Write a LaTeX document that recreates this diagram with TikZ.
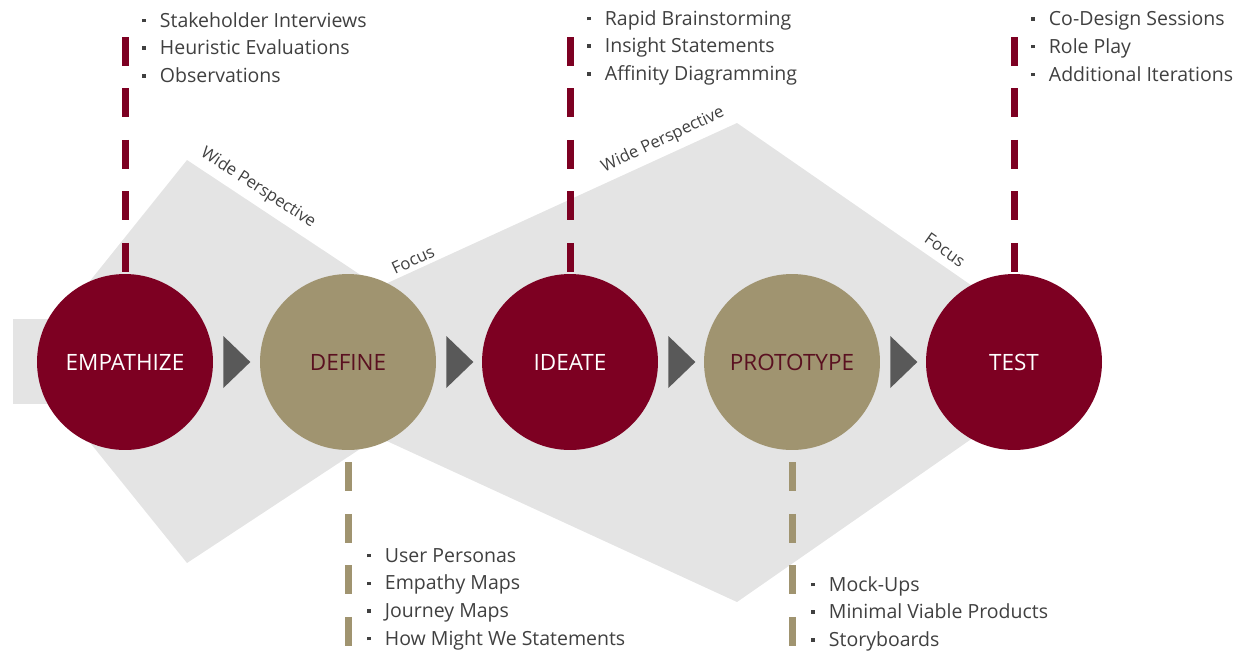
\documentclass[tikz,border=0pt]{standalone}
\usepackage{fontspec}
\setmainfont{Open Sans}
\usetikzlibrary{backgrounds,calc}

\definecolor{crimson}{RGB}{125,0,34}
\definecolor{sand}{RGB}{160,148,112}
\definecolor{greyfill}{RGB}{228,228,228}
\definecolor{arrowgrey}{RGB}{89,89,89}
\definecolor{ink}{RGB}{64,64,64}
\definecolor{darkink}{RGB}{90,16,32}

\tikzset{
  stage/.style={circle, minimum size=3.52cm, inner sep=0pt, font=\fontsize{12.8}{14}\selectfont},
  redstage/.style={stage, fill=crimson, text=white},
  sandstage/.style={stage, fill=sand, text=darkink},
  stem/.style={line width=0.14cm, dash pattern=on 0.58cm off 0.45cm},
  itemlist/.style={anchor=north west, align=left, inner sep=0pt, text=ink, font=\fontsize{11.1}{15.75}\selectfont},
  edgelabel/.style={text=ink, font=\fontsize{9.5}{11}\selectfont, inner sep=1pt},
}
\newcommand{\sqbullet}{\rule[0.25em]{2pt}{2pt}\hspace{8pt}}

\begin{document}
\begin{tikzpicture}[x=0.02cm, y=-0.02cm]
\useasboundingbox (0,0) rectangle (1243,650);
% the five stages
\node[redstage] (emp) at (125,362) {EMPATHIZE};
\node[sandstage] (def) at (348,362) {DEFINE};
\node[redstage] (ide) at (570,362) {IDEATE};
\node[sandstage] (pro) at (792,362) {PROTOTYPE};
\node[redstage] (tes) at (1014,362) {TEST};
\fill[arrowgrey] ($(emp.east)+(10,-26)$) -- ++(27,26) -- ++(-27,26) -- cycle;
\fill[arrowgrey] ($(def.east)+(10,-26)$) -- ++(27,26) -- ++(-27,26) -- cycle;
\fill[arrowgrey] ($(ide.east)+(10,-26)$) -- ++(27,26) -- ++(-27,26) -- cycle;
\fill[arrowgrey] ($(pro.east)+(10,-26)$) -- ++(27,26) -- ++(-27,26) -- cycle;
% methods
\node[itemlist] (empList) at (142,12) {\sqbullet Stakeholder Interviews\\ \sqbullet Heuristic Evaluations\\ \sqbullet Observations};
\node[itemlist] (ideList) at (587,10) {\sqbullet Rapid Brainstorming\\ \sqbullet Insight Statements\\ \sqbullet Affinity Diagramming};
\node[itemlist] (tesList) at (1031,11) {\sqbullet Co-Design Sessions\\ \sqbullet Role Play\\ \sqbullet Additional Iterations};
\node[itemlist] (defList) at (367,548) {\sqbullet User Personas\\ \sqbullet Empathy Maps\\ \sqbullet Journey Maps\\ \sqbullet How Might We Statements};
\node[itemlist] (proList) at (811,576) {\sqbullet Mock-Ups\\ \sqbullet Minimal Viable Products\\ \sqbullet Storyboards};
% labels along the diamonds
\node[edgelabel, rotate=-33] (wide1) at (258,188) {Wide Perspective};
\node[edgelabel, rotate=25] (focus1) at (413,260) {Focus};
\node[edgelabel, rotate=25] (wide2) at (663,140) {Wide Perspective};
\node[edgelabel, rotate=-35] (focus2) at (945,250) {Focus};
\coordinate (empTop) at (125,37);
\coordinate (ideTop) at (570,37);
\coordinate (tesTop) at (1014,37);
\coordinate (defBot) at (348,650);
\coordinate (proBot) at (792,650);
\begin{scope}[on background layer]
\fill[greyfill] (13,319) rectangle (125,404);
\fill[greyfill] (25,362) -- (187,160) -- (492,362) -- (187,563) -- cycle;
\fill[greyfill] (215,362) -- (737,123) -- (1082,362) -- (737,602) -- cycle;
\draw[stem, crimson] (empTop) -- (emp.center);
\draw[stem, crimson] (ideTop) -- (ide.center);
\draw[stem, crimson] (tesTop) -- (tes.center);
\draw[stem, sand, dash phase=0.79cm] (def.south) -- (defBot);
\draw[stem, sand, dash phase=0.79cm] (pro.south) -- (proBot);
\end{scope}
\end{tikzpicture}
\end{document}
